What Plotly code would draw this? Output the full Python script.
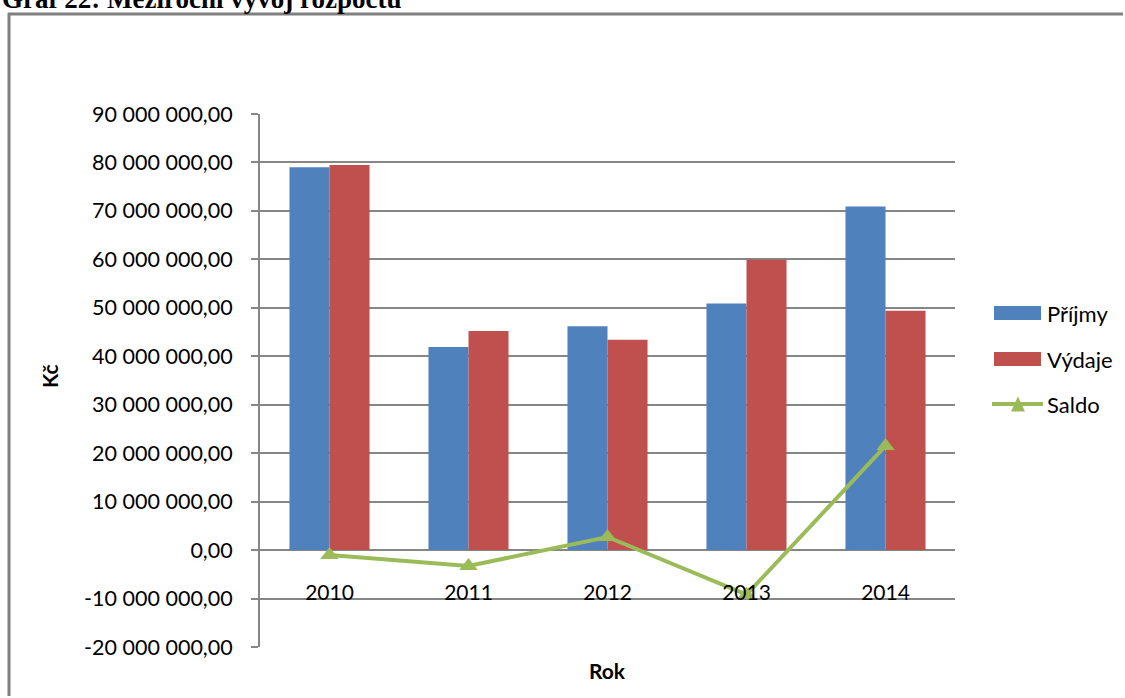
import plotly.graph_objects as go

# Budget data (CZK)
roky = ["2010", "2011", "2012", "2013", "2014"]
prijmy = [79_000_000, 41_900_000, 46_200_000, 50_900_000, 70_900_000]
vydaje = [79_500_000, 45_200_000, 43_400_000, 59_900_000, 49_400_000]
saldo = [-1_000_000, -3_300_000, 2_700_000, -9_200_000, 21_500_000]

y_ticks = [-20_000_000, -10_000_000, 0, 10_000_000, 20_000_000, 30_000_000,
           40_000_000, 50_000_000, 60_000_000, 70_000_000, 80_000_000, 90_000_000]


def czk(v):
    return f"{v:,.2f}".replace(",", " ").replace(".", ",")


y_labels = [czk(v) for v in y_ticks]

W, H = 1125, 698
L, R, T, B = 260, 170, 114, 51
PW, PH = W - L - R, H - T - B


def px_x(p):
    return (p - L) / PW


def px_y(p):
    return (H - B - p) / PH


C_PRIJMY = "#4F81BD"
C_VYDAJE = "#C0504D"
C_SALDO = "#9BBB59"
GRID = "#868686"
FRAME = "#808080"
FONT = "Lato"

fig = go.Figure()
fig.add_trace(go.Bar(x=roky, y=prijmy, name="Příjmy", marker=dict(color=C_PRIJMY, line_width=0)))
fig.add_trace(go.Bar(x=roky, y=vydaje, name="Výdaje", marker=dict(color=C_VYDAJE, line_width=0)))
fig.add_trace(go.Scatter(x=roky, y=saldo, name="Saldo", mode="lines+markers",
                         line=dict(color=C_SALDO, width=4),
                         marker=dict(symbol="triangle-up", size=16, color=C_SALDO)))

y_min, y_max = -20_000_000, 90_000_000
zero_pos = (0 - y_min) / (y_max - y_min)

fig.update_layout(
    width=W, height=H,
    margin=dict(l=L, r=R, t=T, b=B),
    paper_bgcolor="white", plot_bgcolor="white",
    barmode="group", bargap=0.424, bargroupgap=0,
    showlegend=False,
    font=dict(family=FONT, size=21, color="black"),
    xaxis=dict(type="category", anchor="free", position=zero_pos,
               showgrid=False, showline=False, zeroline=False,
               ticks="", ticklabelstandoff=28,
               tickfont=dict(family=FONT, size=21, color="black")),
    yaxis=dict(range=[y_min, y_max], tickvals=y_ticks, ticktext=y_labels,
               showgrid=True, gridcolor=GRID, gridwidth=2,
               zeroline=False, showline=True, linecolor=GRID, linewidth=2,
               ticks="outside", ticklen=7, tickcolor=GRID, tickwidth=2,
               ticklabelstandoff=14,
               tickfont=dict(family=FONT, size=21.5, color="black")),
)

annotations = [
    dict(text="<b>Graf 22: Meziroční vývoj rozpočtu</b>", xref="paper", yref="paper",
         x=px_x(0), y=px_y(16), xanchor="left", yanchor="bottom", showarrow=False,
         font=dict(family="Liberation Serif", size=27, color="black")),
    dict(text="<b>Rok</b>", xref="paper", yref="paper", x=0.5, y=px_y(670),
         xanchor="center", yanchor="middle", showarrow=False,
         font=dict(family=FONT, size=21, color="black")),
    dict(text="<b>Kč</b>", xref="paper", yref="paper", x=px_x(49), y=px_y(376),
         xanchor="center", yanchor="middle", textangle=-90, showarrow=False,
         font=dict(family=FONT, size=21, color="black")),
]

# outer chart frame: left and top edges, kept inside the page
shapes = [
    dict(type="line", xref="paper", yref="paper",
         x0=px_x(9), x1=px_x(9), y0=px_y(13), y1=px_y(H - 2),
         line=dict(color=FRAME, width=3)),
    dict(type="line", xref="paper", yref="paper",
         x0=px_x(8), x1=px_x(W - 2), y0=px_y(14), y1=px_y(14),
         line=dict(color=FRAME, width=3)),
]

# legend
legend_items = [("Příjmy", C_PRIJMY, 313), ("Výdaje", C_VYDAJE, 359)]
for label, color, cy in legend_items:
    shapes.append(dict(type="rect", xref="paper", yref="paper",
                       x0=px_x(994), x1=px_x(1041), y0=px_y(cy - 7), y1=px_y(cy + 7),
                       fillcolor=color, line_width=0))
    annotations.append(dict(text=label, xref="paper", yref="paper", x=px_x(1045), y=px_y(cy),
                            xanchor="left", yanchor="middle", showarrow=False,
                            font=dict(family=FONT, size=22, color="black")))
cy = 404
shapes.append(dict(type="line", xref="paper", yref="paper",
                   x0=px_x(992), x1=px_x(1043), y0=px_y(cy), y1=px_y(cy),
                   line=dict(color=C_SALDO, width=4)))
tx, th, tw = 1018, 15, 14
shapes.append(dict(type="path", xref="paper", yref="paper",
                   path=f"M {px_x(tx - tw / 2)},{px_y(cy + th / 2)} L {px_x(tx + tw / 2)},{px_y(cy + th / 2)} "
                        f"L {px_x(tx)},{px_y(cy - th / 2)} Z",
                   fillcolor=C_SALDO, line_width=0))
annotations.append(dict(text="Saldo", xref="paper", yref="paper", x=px_x(1045), y=px_y(cy),
                        xanchor="left", yanchor="middle", showarrow=False,
                        font=dict(family=FONT, size=22, color="black")))

fig.update_layout(annotations=annotations, shapes=shapes)
fig.write_html("out.html")
